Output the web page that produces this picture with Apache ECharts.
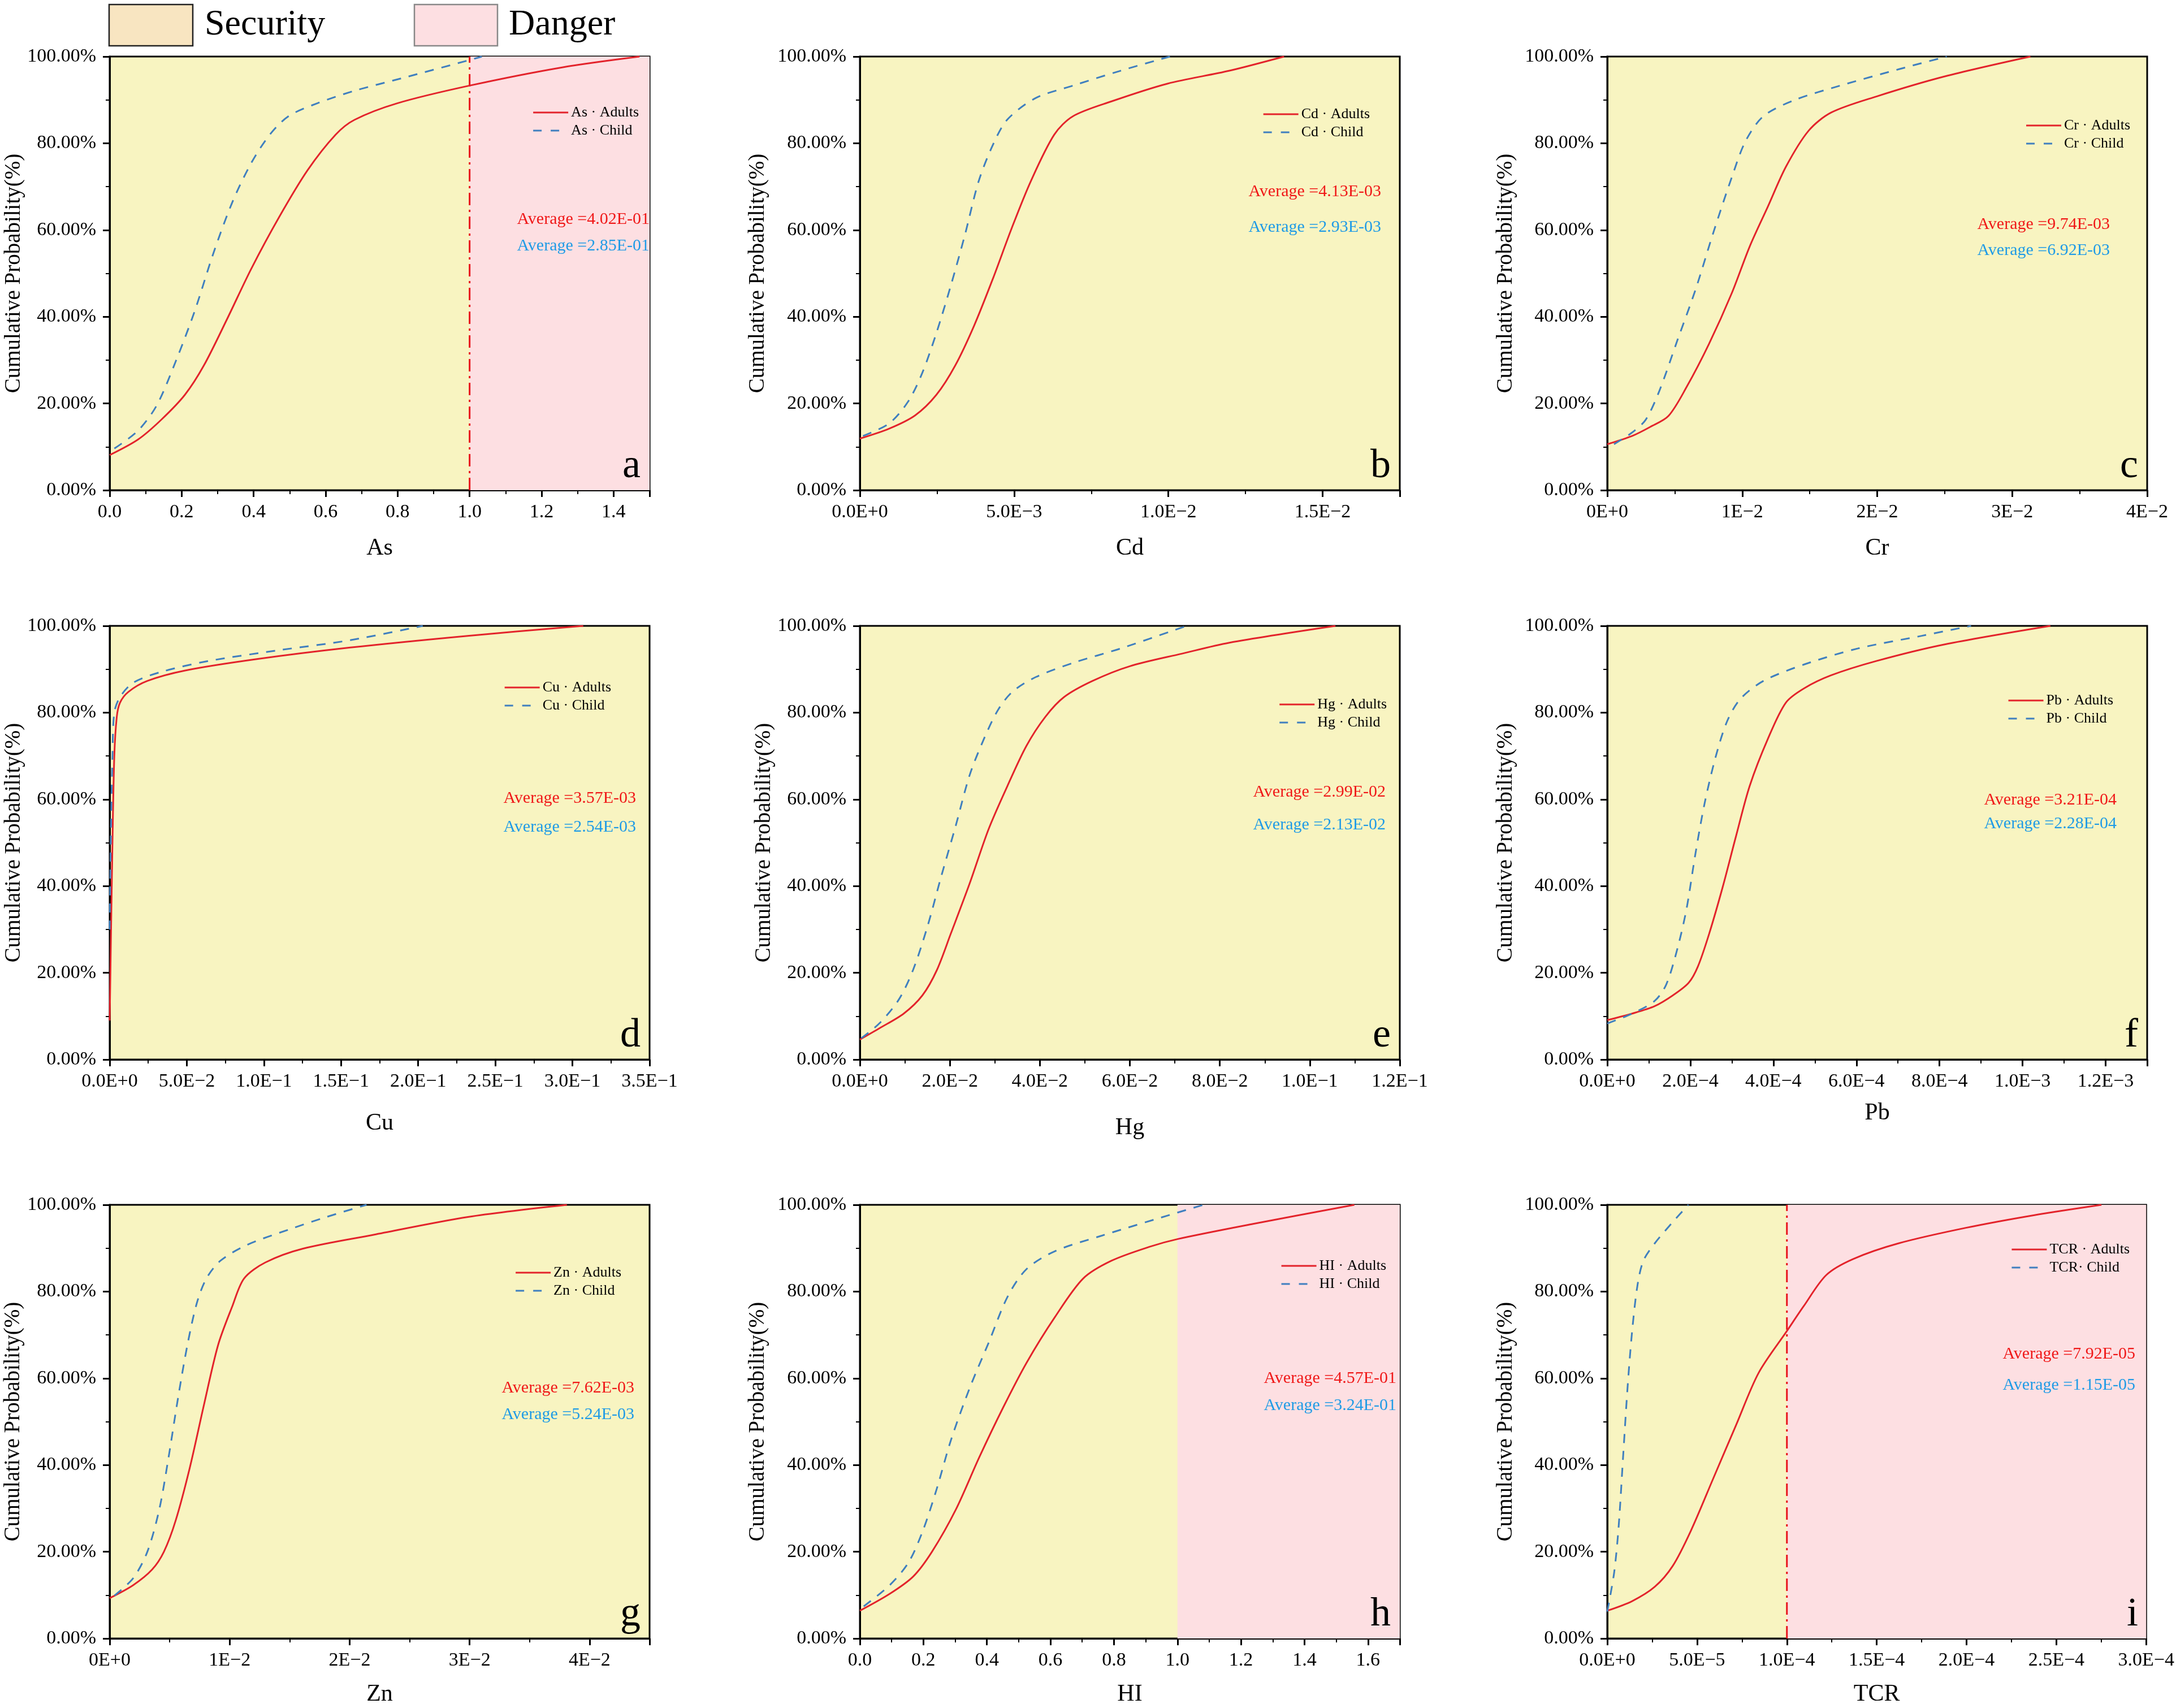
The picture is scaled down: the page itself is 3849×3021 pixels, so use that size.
<!DOCTYPE html>
<html>
<head>
	<meta charset="UTF-8">
	<script src="https://cdn.jsdelivr.net/npm/echarts@6/dist/echarts.min.js"></script>
	<title></title>
	<style>body{margin:0;background:#fff;}</style>
</head>
<body>
	<div id="main" style="width:3849px;height:3021px;"></div>
	<script type="text/javascript">
        // panel data (x value, cumulative %)
        var elements = ['As', 'Cd', 'Cr', 'Cu', 'Hg', 'Pb', 'Zn', 'HI', 'TCR'];
        var letters = ['a', 'b', 'c', 'd', 'e', 'f', 'g', 'h', 'i'];
        var adultAvg = ['4.02E-01', '4.13E-03', '9.74E-03', '3.57E-03', '2.99E-02', '3.21E-04', '7.62E-03', '4.57E-01', '7.92E-05'];
        var childAvg = ['2.85E-01', '2.93E-03', '6.92E-03', '2.54E-03', '2.13E-02', '2.28E-04', '5.24E-03', '3.24E-01', '1.15E-05'];
        var xMax = [1.5, 0.0175, 0.04, 0.35, 0.12, 0.0013, 0.045, 1.7, 0.0003];
        var xInterval = [0.2, 0.005, 0.01, 0.05, 0.02, 0.0002, 0.01, 0.2, 0.00005];
        var xLabelKind = ['dec', 'e1', 'e0', 'e1', 'e1', 'e1', 'e0', 'dec', 'e1'];
        var dangerFrom = [1, null, null, null, null, null, null, 1, 0.0001];
        var thresholdLine = [true, false, false, false, false, false, false, false, true];
        var yTicks = [0, 20, 40, 60, 80, 100];

        var adultsAs = [[0,8.1],[0.079,11.7],[0.144,16.3],[0.209,22],[0.262,28.8],[0.327,39.6],[0.393,51],[0.471,63],[0.55,73.8],[0.628,82],[0.68,85.4],[0.798,89.2],[1.0,93.3],[1.257,97.5],[1.472,100]];
        var childAs = [[0.013,9.6],[0.079,13.75],[0.131,19.6],[0.183,29.6],[0.236,41.25],[0.288,54.6],[0.34,66.25],[0.393,75.4],[0.445,82],[0.497,86.25],[0.576,89.2],[0.68,92.1],[0.812,95],[1.0,99.2],[1.034,100]];
        var adultsCd = [[0,11.9],[0.00095,14.2],[0.00179,17.25],[0.00248,22],[0.00309,28.75],[0.0037,37.9],[0.00431,48.75],[0.00492,60.4],[0.00554,71.25],[0.0063,82],[0.00691,86.25],[0.00813,89.6],[0.00997,93.75],[0.01196,96.7],[0.01375,100]];
        var childCd = [[0.0001,12.5],[0.00095,15.4],[0.00156,20.4],[0.00202,27],[0.00248,36.25],[0.00294,47],[0.0034,58.75],[0.00385,71.25],[0.00431,79.6],[0.00477,85.4],[0.00569,90.4],[0.00691,93.3],[0.00844,96.7],[0.01005,100]];
        var adultsCr = [[0,10.6],[0.00184,12.5],[0.00319,14.6],[0.00453,17.1],[0.00587,23.75],[0.00754,33.75],[0.00922,45.4],[0.01056,56.25],[0.0119,65.4],[0.01324,74.6],[0.01492,82.9],[0.0166,87.1],[0.01995,90.8],[0.02498,95.4],[0.03135,100]];
        var childCr = [[0.0005,10.6],[0.00184,13.3],[0.00285,16.25],[0.00386,22.9],[0.0052,34.6],[0.00654,46.25],[0.00788,59.6],[0.00922,72.1],[0.01023,80.4],[0.01157,86.25],[0.01391,90],[0.01727,93.3],[0.02163,97.1],[0.02515,100]];
        var adultsCu = [[0,9],[0.0009,30],[0.0018,50],[0.003,70],[0.0046,79],[0.0067,82.3],[0.0122,84.8],[0.0244,87.3],[0.0489,89.7],[0.0947,92.3],[0.156,95],[0.232,97.7],[0.307,100]];
        var childCu = [[0,30],[0.0003,40],[0.0009,55],[0.0018,70],[0.003,80],[0.0067,83.6],[0.0153,86.9],[0.0336,89.4],[0.0641,91.9],[0.11,94.4],[0.156,96.7],[0.203,100]];
        var adultsHg = [[0,4.6],[0.0045,7.3],[0.00975,10.6],[0.0139,14.8],[0.0171,20.6],[0.0202,29],[0.0244,40.6],[0.0286,53.1],[0.0328,63.1],[0.037,72.3],[0.0412,79],[0.0454,83.6],[0.0517,87.3],[0.06,90.7],[0.0716,93.6],[0.082,96.1],[0.1057,100]];
        var childHg = [[0.0003,4.9],[0.0045,8.5],[0.0087,13.9],[0.0118,20.6],[0.015,30.6],[0.0181,42.3],[0.0213,53.9],[0.0244,65.6],[0.0276,74],[0.0307,80.6],[0.0339,84.8],[0.0391,88.2],[0.0475,91.5],[0.058,94.8],[0.0726,100]];
        var adultsPb = [[0,9.1],[0.00006,10.6],[0.000114,12.3],[0.000158,14.8],[0.000196,17.7],[0.000218,21.4],[0.000245,28.9],[0.000278,39.8],[0.00031,51.5],[0.000343,63.1],[0.000387,74],[0.00043,82.3],[0.000474,85.6],[0.000539,88.6],[0.000648,91.9],[0.000811,95.7],[0.001067,100]];
        var childPb = [[0,8.3],[0.00006,10.6],[0.000114,13.5],[0.000142,17.3],[0.000169,25.6],[0.000191,34.8],[0.000212,47.3],[0.000234,58.9],[0.000261,69.8],[0.000289,78.1],[0.000321,83.2],[0.000376,87.3],[0.000474,91.1],[0.000604,94.8],[0.000757,97.7],[0.000876,100]];
        var adultsZn = [[0,9.3],[0.00196,12.3],[0.00354,15.9],[0.00452,20],[0.0055,27.2],[0.00668,39.4],[0.00786,53.9],[0.00904,67.7],[0.01022,76.6],[0.0112,83],[0.01297,86.7],[0.01611,89.9],[0.022,93.1],[0.02986,97.2],[0.03811,100]];
        var childZn = [[0.0004,9.9],[0.00196,13.9],[0.00314,20],[0.00413,29.7],[0.00491,41.8],[0.0057,55.5],[0.00648,67.7],[0.00727,77.4],[0.00806,83],[0.00923,87.1],[0.0114,90.7],[0.01493,94.3],[0.01807,97.2],[0.02141,100]];
        var adultsHI = [[0,6.4],[0.094,10.3],[0.168,14.3],[0.227,20],[0.302,29.7],[0.376,41.8],[0.45,53.1],[0.525,63.6],[0.614,74.1],[0.703,83],[0.792,87.1],[0.911,90.3],[1.0,92.1],[1.238,95.6],[1.557,100]];
        var childHI = [[0.012,7.4],[0.094,12.3],[0.153,17.5],[0.198,24.8],[0.242,34.5],[0.287,45.8],[0.346,57.8],[0.406,68.3],[0.465,78.8],[0.525,85.2],[0.614,89.3],[0.762,92.9],[1.0,98.2],[1.082,100]];
        var adultsTCR = [[0,6.4],[1.38e-5,8.6],[2.64e-5,11.9],[3.64e-5,16.7],[4.65e-5,24.8],[5.9e-5,36.9],[7.16e-5,49.1],[8.42e-5,61.2],[1.0e-4,70.9],[1.093e-4,76.6],[1.219e-4,83.8],[1.369e-4,87.5],[1.62e-4,91.1],[1.997e-4,94.7],[2.374e-4,97.6],[2.751e-4,100]];
        var childTCR = [[0,6.2],[3.8e-6,15.1],[6.3e-6,25.6],[8.8e-6,41.8],[1.13e-5,57.9],[1.38e-5,70.7],[1.68e-5,81.4],[2.01e-5,87.1],[2.64e-5,91.1],[3.64e-5,96],[4.52e-5,100]];

        var adultsData = [adultsAs, adultsCd, adultsCr, adultsCu, adultsHg, adultsPb, adultsZn, adultsHI, adultsTCR];
        var childData = [childAs, childCd, childCr, childCu, childHg, childPb, childZn, childHI, childTCR];
        var childNames = ['As · Child', 'Cd · Child', 'Cr · Child', 'Cu · Child', 'Hg · Child', 'Pb · Child', 'Zn · Child', 'HI · Child', 'TCR· Child'];

        // layout (pixels)
        var W = 3849, H = 3021;
        var colLeft = [194, 1521, 2843];
        var rowTop = [100, 1107, 2131];
        var plotW = 955, plotH = 767;
        var legendDx = [19, 53, 30, 68, 23, 60, 50, 24, 31];
        var legendDy = [99, 102, 122, 109, 139, 132, 120, 108, 79];
        var avgDx = [0, 33, 66, 24, 25, 54, 27, 6, 21];
        var avgDy = [[288, 335], [239, 302], [297, 343], [305, 356], [294, 352], [308, 350], [324, 371], [307, 355], [264, 319]];
        var xNameGap = [82, 82, 82, 92, 100, 74, 78, 78, 78];
        var yNameGap = [145, 161, 160, 140, 149, 160, 151, 161, 160];

        var FONT = '"Liberation Serif", "Times New Roman", serif';
        var RED = '#E3232B', BLUE = '#3F7FBF';
        var YELLOW = '#F8F4C1', PINK = '#FDDFE2';
        var DASH_ICON = 'path://M0,0h15v3h-15zM31,0h15v3h-15zM61.98,0h0.02v3h-0.02z';

        function fmtX(v, kind) {
            if (kind === 'dec') return v.toFixed(1);
            if (v === 0) return kind === 'e0' ? '0E+0' : '0.0E+0';
            var e = Math.floor(Math.log10(v) + 1e-9);
            var m = v / Math.pow(10, e);
            return (kind === 'e0' ? String(Math.round(m)) : m.toFixed(1)) + 'E\u2212' + (-e);
        }

        var myChart = echarts.init(document.getElementById('main'));
        var grids = [], xAxes = [], yAxes = [], series = [], legends = [], graphics = [];

        for (var i = 0; i < 9; i++) {
            var pLeft = colLeft[i % 3], pTop = rowTop[Math.floor(i / 3)];
            var pRight = pLeft + plotW, pBottom = pTop + plotH;
            grids.push({
                left: pLeft, top: pTop, width: plotW, height: plotH,
                show: true, backgroundColor: YELLOW, borderColor: '#000', borderWidth: 3
            });
            var ratio = xMax[i] / xInterval[i];
            (function (kind) {
                xAxes.push({
                    type: 'value', gridIndex: i, min: 0, max: xMax[i], interval: xInterval[i],
                    name: elements[i], nameLocation: 'middle', nameGap: xNameGap[i],
                    nameTextStyle: { fontFamily: FONT, fontSize: 42, color: '#000' },
                    axisLine: { show: true, onZero: false, lineStyle: { color: '#000', width: 3 } },
                    axisTick: { show: true, length: 12, lineStyle: { color: '#000', width: 3 } },
                    minorTick: { show: true, splitNumber: 2, length: 7, lineStyle: { color: '#000', width: 2 } },
                    splitLine: { show: false },
                    axisLabel: {
                        fontFamily: FONT, fontSize: 34, color: '#000', margin: 22,
                        showMaxLabel: Math.abs(ratio - Math.round(ratio)) < 1e-6,
                        formatter: function (v) { return fmtX(v, kind); }
                    }
                });
            })(xLabelKind[i]);
            yAxes.push({
                type: 'value', gridIndex: i, min: 0, max: 100, interval: 20,
                name: 'Cumulative Probability(%)', nameLocation: 'middle', nameGap: yNameGap[i],
                nameTextStyle: { fontFamily: FONT, fontSize: 39, color: '#000' },
                axisLine: { show: true, lineStyle: { color: '#000', width: 3 } },
                axisTick: { show: true, length: 12, lineStyle: { color: '#000', width: 3 } },
                minorTick: { show: true, splitNumber: 2, length: 7, lineStyle: { color: '#000', width: 2 } },
                splitLine: { show: false },
                axisLabel: {
                    fontFamily: FONT, fontSize: 34, color: '#000', margin: 24,
                    formatter: function (v) { return v.toFixed(2) + '%'; }
                }
            });

            var adultName = elements[i] + ' · Adults';
            var adult = {
                name: adultName, type: 'line', xAxisIndex: i, yAxisIndex: i,
                data: adultsData[i], smooth: 0.3,
                symbol: 'none', showSymbol: false, z: 5,
                lineStyle: { color: RED, width: 3 }, itemStyle: { color: RED },
                animation: false
            };
            if (dangerFrom[i] !== null) {
                adult.markArea = {
                    silent: true,
                    itemStyle: { color: PINK, opacity: 1 },
                    data: [[{ xAxis: dangerFrom[i] }, { xAxis: xMax[i] }]]
                };
            }
            series.push(adult);
            series.push({
                name: childNames[i], type: 'line', xAxisIndex: i, yAxisIndex: i,
                data: childData[i], smooth: 0.3,
                symbol: 'none', showSymbol: false, z: 5,
                lineStyle: { color: BLUE, width: 3, type: [16, 14] }, itemStyle: { color: BLUE },
                animation: false
            });
            if (thresholdLine[i]) {
                // vertical dash-dot limit line at the threshold value
                series.push({
                    name: 'limit' + i, type: 'line', xAxisIndex: i, yAxisIndex: i,
                    data: [[dangerFrom[i], 0], [dangerFrom[i], 100]],
                    symbol: 'none', showSymbol: false, z: 4, silent: true,
                    lineStyle: { color: '#E8141C', width: 3, type: [22, 8, 4, 8] },
                    animation: false
                });
            }

            legends.push({
                orient: 'vertical', selectedMode: false, padding: 0,
                right: W - pRight + legendDx[i], top: pTop + legendDy[i] - 13,
                itemWidth: 62, itemHeight: 3, itemGap: 6,
                symbolKeepAspect: false,
                textStyle: { fontFamily: FONT, fontSize: 26, color: '#000' },
                data: [{ name: adultName, icon: 'rect' }, { name: childNames[i], icon: DASH_ICON }]
            });

            graphics.push({
                type: 'text', x: pRight - avgDx[i], y: pTop + avgDy[i][0], z: 100,
                style: { text: 'Average =' + adultAvg[i], fill: '#F01818', fontFamily: FONT, fontSize: 30, textAlign: 'right', textVerticalAlign: 'middle' }
            });
            graphics.push({
                type: 'text', x: pRight - avgDx[i], y: pTop + avgDy[i][1], z: 100,
                style: { text: 'Average =' + childAvg[i], fill: '#1F9BE6', fontFamily: FONT, fontSize: 30, textAlign: 'right', textVerticalAlign: 'middle' }
            });
            graphics.push({
                type: 'text', x: pRight - 16, y: pBottom - 6, z: 100,
                style: { text: letters[i], fill: '#000', fontFamily: FONT, fontSize: 72, textAlign: 'right', textVerticalAlign: 'bottom' }
            });
        }

        // Security / Danger key at the top
        graphics.push({ type: 'rect', shape: { x: 193, y: 8, width: 148, height: 73 }, style: { fill: '#F8E5C1', stroke: '#222', lineWidth: 2.5 } });
        graphics.push({ type: 'text', x: 362, y: 44, style: { text: 'Security', fill: '#000', fontFamily: FONT, fontSize: 64, textVerticalAlign: 'middle' } });
        graphics.push({ type: 'rect', shape: { x: 733, y: 8, width: 147, height: 73 }, style: { fill: PINK, stroke: '#888', lineWidth: 2.5 } });
        graphics.push({ type: 'text', x: 900, y: 44, style: { text: 'Danger', fill: '#000', fontFamily: FONT, fontSize: 64, textVerticalAlign: 'middle' } });

        var option = {
            animation: false,
            backgroundColor: '#fff',
            grid: grids,
            xAxis: xAxes,
            yAxis: yAxes,
            legend: legends,
            series: series,
            graphic: graphics
        };
        myChart.setOption(option);
	</script>
</body>
</html>
